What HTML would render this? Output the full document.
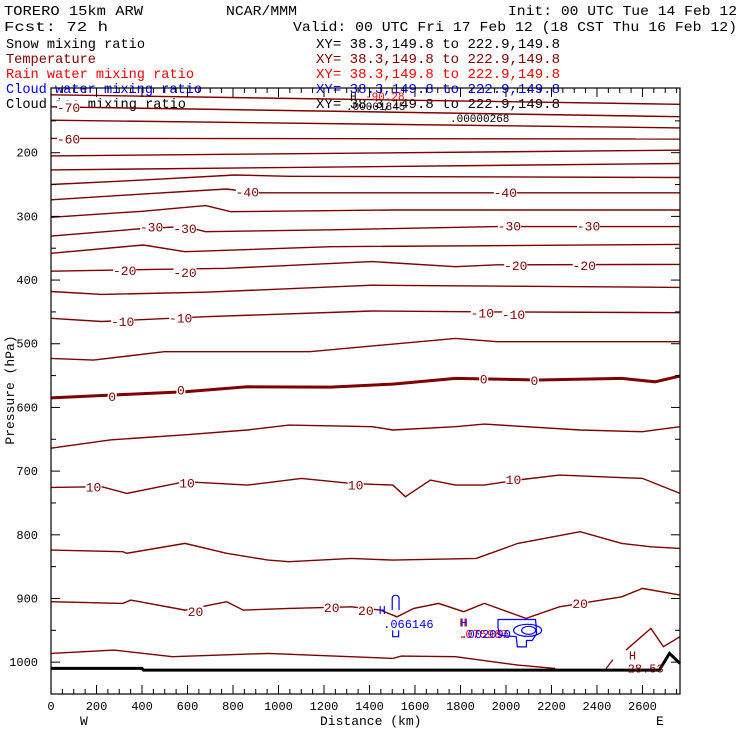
<!DOCTYPE html>
<html><head><meta charset="utf-8"><style>
html,body{margin:0;padding:0;background:#fff;}
svg{display:block;}
text{font-family:"Liberation Mono",monospace;}
</style></head><body>
<svg id="chart" width="740" height="740" viewBox="0 0 740 740" xmlns="http://www.w3.org/2000/svg">
<rect x="0" y="0" width="740" height="740" fill="#fff"/>
<g id="header" font-size="14">
<text x="4" y="15" textLength="139" lengthAdjust="spacingAndGlyphs">TORERO  15km ARW</text>
<text x="226" y="15" textLength="71" lengthAdjust="spacingAndGlyphs">NCAR/MMM</text>
<text x="508" y="15" textLength="229" lengthAdjust="spacingAndGlyphs">Init: 00 UTC Tue 14 Feb 12</text>
<text x="4" y="31" textLength="104" lengthAdjust="spacingAndGlyphs">Fcst:   72 h</text>
<text x="293" y="31" textLength="444" lengthAdjust="spacingAndGlyphs">Valid: 00 UTC Fri 17 Feb 12 (18 CST Thu 16 Feb 12)</text>
</g>
<g id="legend" font-size="14"></g>
<g id="plot"></g>
</svg>
<script>
// ---- data ----
const distTicks = [0,200,400,600,800,1000,1200,1400,1600,1800,2000,2200,2400,2600];
const presTicks = [200,300,400,500,600,700,800,900,1000];
const legendNames = ["Snow mixing ratio","Temperature","Rain water mixing ratio","Cloud water mixing ratio","Cloud ice mixing ratio"];
const legendColors = ["#000","#800000","#ff0000","#0000ff","#000"];
const legendWidths = [139,90,188,196,180];
// isotherm levels (deg C)
const tempLevels = [-75,-70,-65,-60,-55,-50,-45,-40,-35,-30,-25,-20,-15,-10,-5,0,5,10,15,20,25,25];
// distance (km) / pressure (hPa) per isotherm
const isoDist = [
 [0,2765],[0,2765],[0,2765],[0,2765],[0,2765],[0,2765],
 [0,400,808,1046,2765],
 [0,400,772,900,1500,2765],
 [0,400,680,790,1500,2765],
 [0,406,589,680,1229,1960,2765],
 [0,406,589,1229,2765],
 [0,315,772,1412,1778,1960,2765],
 [0,223,680,1412,2765],
 [0,223,680,1412,1960,2765],
 [0,187,497,1137,1778,1960,2765],
 [0,260,589,863,1229,1503,1778,2143,2509,2655,2765],
 [0,260,589,863,1046,1412,1503,1778,1905,2326,2600,2765],
 [0,223,333,589,863,1101,1320,1503,1558,1668,1778,1905,2052,2235,2600,2765],
 [0,315,333,589,772,955,1046,1320,1503,1869,2052,2326,2509,2637,2765],
 [0,315,351,589,772,845,1046,1320,1448,1521,1595,1704,1814,1905,2088,2235,2509,2600,2765],
 [0,278,534,955,1503,1540,1778,2052,2216],
 [2527,2637,2692,2765]
];
const isoPres = [
 [109,124],[128,143.5],[149,161],[177.5,178.5],[205,196],[227,217],
 [250,243,235,237,239],
 [274,265,257,263,263,263],
 [301.5,292,283,292.6,290,290],
 [331,319,316,324,321,316,316],
 [358,345,355.5,347.6,344],
 [386,384,381.6,371,379,376,375.4],
 [418,422.5,419,408,411.5],
 [460,465,457.5,448.6,450,451.3],
 [523,525.6,512.5,512.5,491.6,496.8,496.8],
 [585,580.6,575.4,567.6,568,563.3,554.4,557,554.4,559.7,550.8],
 [664,651,643,635.5,627.7,630.3,635.5,630.3,626.1,635.5,638.1,630.3],
 [725.6,724.5,735,716.7,721.9,711.4,719.3,721.9,740.2,714.1,721.9,721.9,714,706.2,711.4,735],
 [824,826.6,829,813.5,829,839.7,842.3,837.1,839.7,837.1,813.5,795.2,813.5,818.8,821.4],
 [905,907.7,902.5,918.2,905,918.2,915.6,913,918.2,928.7,915.6,907.7,920.8,907.7,931.3,913,897.3,884.2,894.7],
 [986.3,981,991.5,986.3,994.1,990.5,991.5,1004.6,1009.8],
 [981,947,975.8,960.1]
];
const labelDist = [77,77,863,1997,442,589,2015,2363,324,589,2043,2344,315,570,1896,2033,269,571,1902,2125,187,598,1339,2033,635,1234,1384,2326];
const labelPres = [128,177.5,261,262,316,318,314,314,384,387,376,376,464,459,451,453,582,572,554.4,557,724.5,718,721,712,920,913,918,907];
const labelText = ["-70","-60","-40","-40","-30","-30","-30","-30","-20","-20","-20","-20","-10","-10","-10","-10","0","0","0","0","10","10","10","10","20","20","20","20"];
const groundDist = [0,400,406,2674,2719,2765];
const groundPres = [1009.8,1009.8,1012.4,1012.4,986.3,1002];

// ---- axes ----
const X0=51, X1=680, Y0=88, Y1=694;
const dMax=2765, pTop=98.4, pBot=1050;
const xS = d => X0 + d*(X1-X0)/dMax;
const yS = p => Y0 + (p-pTop)*(Y1-Y0)/(pBot-pTop);
const NS="http://www.w3.org/2000/svg";
function mk(tag, attrs, parent, txt){
  const e=document.createElementNS(NS,tag);
  for(const k in attrs) e.setAttribute(k,attrs[k]);
  if(txt!==undefined) e.textContent=txt;
  parent.appendChild(e); return e;
}
const plot=document.getElementById('plot');
const legend=document.getElementById('legend');

legendNames.forEach((n,i)=>{
  const t=mk('text',{x:6,y:48+15*i,fill:legendColors[i],textLength:legendWidths[i],lengthAdjust:'spacingAndGlyphs'},legend,n);
  
  
  const t2=mk('text',{x:316,y:48+15*i,fill:legendColors[i],textLength:244,lengthAdjust:'spacingAndGlyphs'},legend,"XY=  38.3,149.8 to 222.9,149.8");
  
  
});

// isotherms
isoDist.forEach((ds,i)=>{
  const pts=ds.map((d,j)=>xS(d).toFixed(1)+','+yS(isoPres[i][j]).toFixed(1)).join(' ');
  const pl=mk('polyline',{points:pts,fill:'none',stroke:'#800000','stroke-width':tempLevels[i]===0?3:1.4},plot);
  
  
});
// small hook near 2450km
const hook=mk('polyline',{points:xS(2440)+','+yS(1010)+' '+xS(2470)+','+yS(996),fill:'none',stroke:'#800000','stroke-width':1.2},plot);



// labels
labelText.forEach((t,i)=>{
  const x=xS(labelDist[i]), y=yS(labelPres[i]);
  const w=t.length*7+2;
  const r=mk('rect',{x:x-w/2,y:y-6,width:w,height:12,fill:'#fff'},plot);
  
  
  const tx=mk('text',{x:x,y:y+5,'text-anchor':'middle','font-size':13,fill:'#800000'},plot,t);
  
  
});

// ground
const gp=groundDist.map((d,j)=>xS(d).toFixed(1)+','+yS(groundPres[j]).toFixed(1)).join(' ');
const gl=mk('polyline',{points:gp,fill:'none',stroke:'#000','stroke-width':3},plot);



// cloud water blue contours
const cw=mk('g',{fill:'none',stroke:'#0000ff','stroke-width':1.2},plot);


mk('path',{d:`M${xS(1500)},${yS(918)} L${xS(1500)},${yS(900)} Q${xS(1500)},${yS(895)} ${xS(1515)},${yS(895)} Q${xS(1530)},${yS(895)} ${xS(1530)},${yS(900)} L${xS(1530)},${yS(918)}`},cw);
mk('path',{d:`M${xS(1502)},${yS(950)} L${xS(1502)},${yS(960)} L${xS(1528)},${yS(960)} L${xS(1528)},${yS(950)}`},cw);
mk('path',{d:`M${xS(1965)},${yS(946)} L${xS(1965)},${yS(933)} L${xS(2130)},${yS(933)} L${xS(2135)},${yS(955)} L${xS(2115)},${yS(966)} L${xS(2090)},${yS(966)} L${xS(2090)},${yS(976)} L${xS(2050)},${yS(976)} L${xS(2045)},${yS(960)} L${xS(1975)},${yS(958)} Z`},cw);
mk('ellipse',{cx:xS(2095),cy:yS(950),rx:14,ry:6},cw);
mk('ellipse',{cx:xS(2100),cy:yS(950),rx:7,ry:4},cw);

function addText(x,y,t,fill,size,name){
  const e=mk('text',{x:x,y:y,fill:fill,'font-size':size},plot,t);
  
  
}
addText(xS(1440),yS(924),"H","#0000ff",12,'cloud-water-max-marker');
addText(xS(1460),yS(946),".066146","#0000ff",12,'cloud-water-max-value');
addText(xS(1795),yS(944),"H","#ff0000",12,'rain-max-marker');
addText(xS(1800),yS(944),"H","#0000ff",12,'cloud-max-marker');
addText(xS(1790),yS(962),".075987","#ff0000",12,'rain-max-value');
addText(xS(1800),yS(962),".002090","#0000ff",12,'cloud-max-value');
addText(xS(2540),yS(996),"H","#800000",12,'temp-max-marker');
addText(xS(2535),yS(1016),"28.53","#800000",12,'temp-max-value');
addText(350,100,"H","#000",11,'snow-max-marker');
addText(365,100,"-90.28","#ff0000",11,'top-value');
addText(346,110,".00001845","#000",11,'snow-max-value');
addText(450,122,".00000268","#000",11,'ice-max-value');

// frame
const fr=mk('rect',{x:X0,y:Y0,width:X1-X0,height:Y1-Y0,fill:'none',stroke:'#000','stroke-width':1.2},plot);


// x ticks
for(let d=0; d<=dMax; d+=50){
  const L=(d%200===0)?9:5;
  const x=xS(d);
  const a=mk('line',{x1:x,y1:Y1,x2:x,y2:Y1-L,stroke:'#000','stroke-width':1},plot);
  
  
  const b=mk('line',{x1:x,y1:Y0,x2:x,y2:Y0+L,stroke:'#000','stroke-width':1},plot);
  
  
}
distTicks.forEach(d=>{
  const t=mk('text',{x:xS(d),y:710,'text-anchor':'middle','font-size':12},plot,String(d));
  
  
});
for(let p=150; p<=1050; p+=50){
  const L=(p%100===0)?9:5;
  const y=yS(p);
  const a=mk('line',{x1:X0,y1:y,x2:X0+L,y2:y,stroke:'#000','stroke-width':1},plot);
  
  
  const b=mk('line',{x1:X1,y1:y,x2:X1-L,y2:y,stroke:'#000','stroke-width':1},plot);
  
  
}
presTicks.forEach(p=>{
  const t=mk('text',{x:38,y:yS(p)+4,'text-anchor':'end','font-size':12},plot,String(p));
  
  
});
addText(320,725,"Distance (km)","#000",13,'x-axis-title');
addText(80,725,"W","#000",13,'west-label');
addText(656,725,"E","#000",13,'east-label');
const yt=mk('text',{x:0,y:0,'font-size':13,'text-anchor':'middle',transform:'translate(14,390) rotate(-90)'},plot,"Pressure (hPa)");


</script>
</body></html>
